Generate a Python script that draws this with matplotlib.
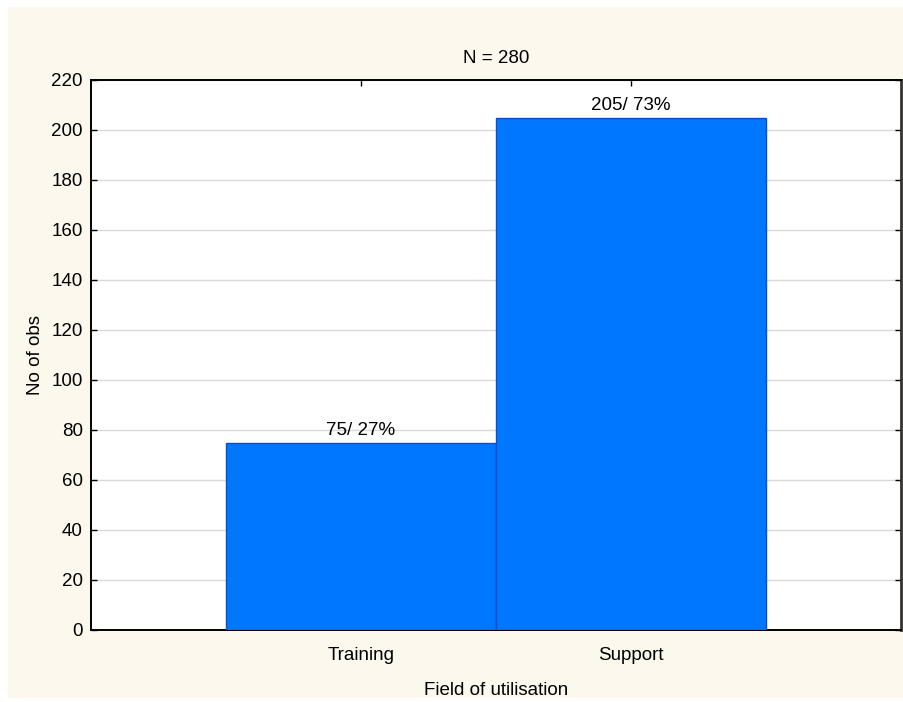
import matplotlib.pyplot as plt
from matplotlib.patches import Rectangle

plt.rcParams['font.family'] = ['Liberation Sans', 'DejaVu Sans']

categories = ['Training', 'Support']
counts = [75, 205]
percents = [27, 73]
total_n = 280
y_ticks = list(range(0, 221, 20))

FS = 13.5

fig = plt.figure(figsize=(9.04, 7.02), dpi=100, facecolor='white')
# cream panel behind everything
panel = Rectangle((8 / 904, 4 / 702), 1 - 8 / 904, 691 / 702,
                  transform=fig.transFigure, facecolor='#fdf8ee',
                  edgecolor='none', zorder=-10)
fig.add_artist(panel)

ax = fig.add_axes([91 / 904, 72 / 702, 810 / 904, 550 / 702])
ax.set_facecolor('white')

x = list(range(len(categories)))
bars = ax.bar(x, counts, width=1.0, color='#0077ff', edgecolor='#0a4fc8',
              linewidth=1.0, zorder=3)

for b, c, p in zip(bars, counts, percents):
    ax.text(b.get_x() + b.get_width() / 2, c + 1.5, f'{c}/ {p}%',
            ha='center', va='bottom', fontsize=FS, zorder=4)

ax.set_xlim(-1.0, 2.0)
ax.set_ylim(0, 220)
ax.set_yticks(y_ticks)
ax.set_xticks(x)
ax.set_xticklabels(categories)
ax.yaxis.grid(True, color='#d9d9d9', linewidth=1.0, zorder=0)
ax.set_axisbelow(True)

ax.tick_params(axis='both', direction='in', length=4, width=1.0,
               labelsize=FS, top=True, right=True, labeltop=False,
               labelright=False, color='black')
ax.tick_params(axis='x', pad=12)
ax.tick_params(axis='y', pad=6)

for s in ax.spines.values():
    s.set_linewidth(1.4)
    s.set_color('black')
ax.spines['right'].set_color('#333333')
ax.spines['right'].set_linewidth(2.0)

ax.set_title(f'N = {total_n}', fontsize=FS, pad=12)
ax.set_xlabel('Field of utilisation', fontsize=FS, labelpad=13)
ax.set_ylabel('No of obs', fontsize=FS, labelpad=5)

fig.savefig('out.png', dpi=100, facecolor=fig.get_facecolor())
